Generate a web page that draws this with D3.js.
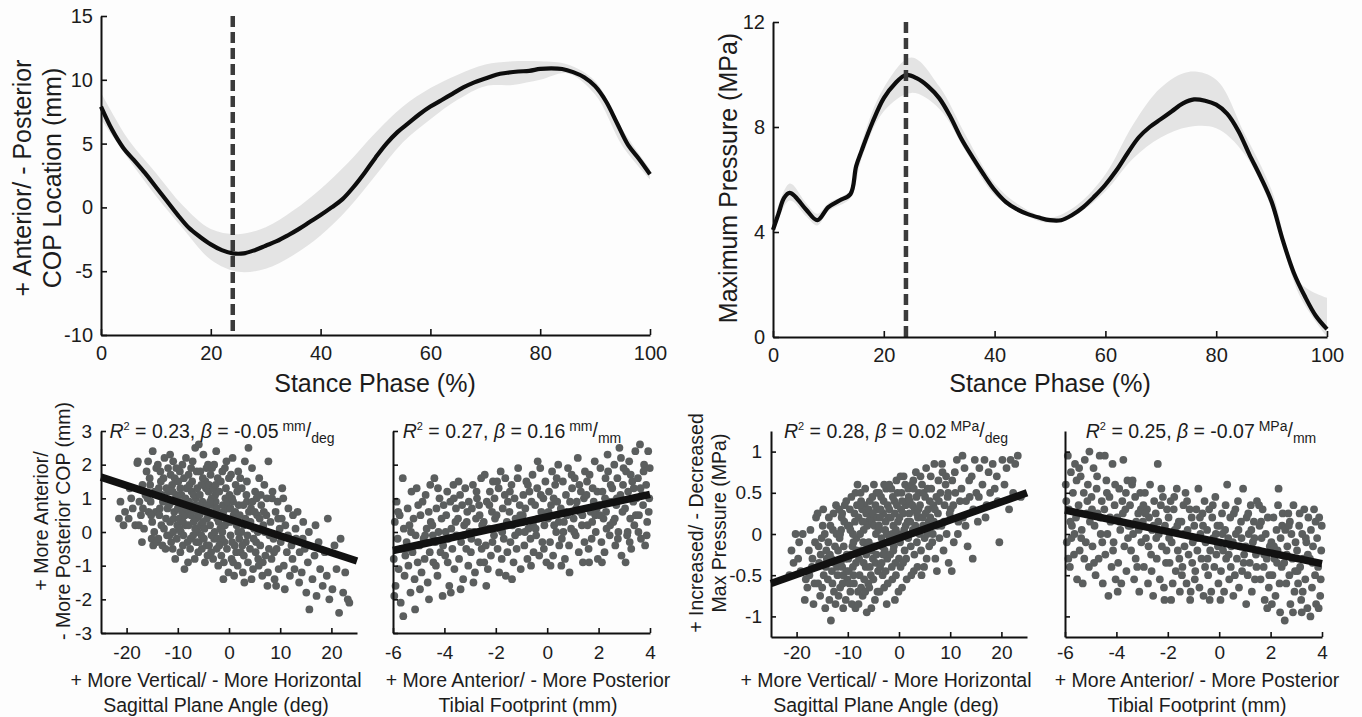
<!DOCTYPE html>
<html><head><meta charset="utf-8">
<script src="https://cdn.jsdelivr.net/npm/d3@7"></script>
<style>body{margin:0;background:#fff}svg{display:block}</style>
</head><body>
<svg id="chart" width="1362" height="717"></svg>
<script>
// ---------------- DATA ----------------
const stanceTicks = [0, 20, 40, 60, 80, 100];
const copTicks = [-10, -5, 0, 5, 10, 15];
const pressTicks = [0, 4, 8, 12];
const angleTicks = [-20, -10, 0, 10, 20];
const footTicks = [-6, -4, -2, 0, 2, 4];
const copDevTicks = [-3, -2, -1, 0, 1, 2, 3];
const pressDevTicks = [-1, -0.5, 0, 0.5, 1];
const markerPct = 24;

const copPct = [0,2,4,6,8,10,12,14,16,18,20,22,24,26,28,30,32,34,36,38,40,42,44,46,48,50,52,54,56,58,60,62,64,66,68,70,72,74,76,78,80,82,84,86,88,90,92,94,96,98,100];
const copMean = [7.9,6.1,4.7,3.7,2.7,1.6,0.5,-0.6,-1.6,-2.3,-2.9,-3.35,-3.6,-3.6,-3.35,-3.0,-2.65,-2.2,-1.7,-1.15,-0.6,0.0,0.65,1.6,2.7,3.9,5.0,5.9,6.6,7.3,7.9,8.4,8.9,9.4,9.8,10.1,10.4,10.55,10.65,10.7,10.85,10.9,10.85,10.6,10.2,9.5,8.3,6.6,4.9,3.8,2.6];
const copBandPct = [0,5,10,15,20,25,30,35,40,45,50,55,60,65,70,75,80,85,90,95,100];
const copUpper = [9.0,5.3,2.7,0.1,-1.7,-2.1,-1.55,-0.25,1.45,3.5,5.85,7.9,9.35,10.4,11.2,11.45,11.45,11.2,9.9,6.1,3.0];
const copLower = [6.9,3.8,0.9,-1.7,-4.1,-5.05,-4.8,-3.75,-2.2,-0.1,2.5,5.1,6.9,8.45,9.5,9.6,10.0,10.5,8.85,4.8,2.2];

const pressPct = [0,1,2,3,4,6,8,10,12,14,15,16,18,20,22,24,26,28,30,32,34,36,38,40,42,44,46,48,50,52,54,56,58,60,62,64,66,68,70,72,74,76,78,80,82,84,86,88,90,92,94,96,98,100];
const pressMean = [4.08,4.7,5.3,5.49,5.35,4.85,4.45,4.95,5.2,5.45,6.5,7.1,8.2,9.1,9.65,9.98,9.85,9.55,9.1,8.4,7.55,6.85,6.2,5.6,5.15,4.87,4.68,4.55,4.45,4.45,4.65,4.95,5.35,5.8,6.35,7.0,7.6,8.0,8.3,8.6,8.9,9.05,9.0,8.85,8.5,7.85,6.95,6.1,5.15,3.7,2.45,1.55,0.8,0.3];
const pressBandPct = [0,3,6,8,10,14,16,20,25,30,35,40,45,50,55,60,65,70,75,80,85,90,95,100];
const pressUpper = [4.3,5.85,5.1,4.7,5.1,5.6,7.4,9.5,10.65,9.55,7.6,5.85,4.95,4.55,5.05,6.2,8.1,9.5,10.1,9.8,7.8,5.6,2.1,1.5];
const pressLower = [3.9,5.2,4.6,4.25,4.8,5.3,6.8,8.6,9.3,8.7,7.0,5.4,4.7,4.35,4.7,5.55,6.8,7.6,8.0,7.95,7.0,4.9,1.6,0.0];

const angleCop = [[-21.2,0.9],[-20.6,0.2],[-20.3,0.6],[-21.5,0.4],
[-19.6,0.4],[-19.1,1.0],[-18.8,0.7],[-18.3,0.2],[-19.4,1.3],[-17.9,2.05],
[-17.8,2.1],[-17.5,0.9],[-17.2,0.5],[-16.9,1.4],[-16.6,0.1],[-17.0,-0.3],[-16.3,1.1],[-16.8,0.7],[-17.6,0.2],[-16.1,1.8],
[-15.8,2.1],[-15.5,1.6],[-15.3,0.9],[-15.0,0.3],[-14.8,-0.4],[-14.5,1.2],[-15.7,0.6],[-14.2,1.9],[-15.1,-0.2],[-14.6,0.0],[-15.9,1.0],[-14.3,0.6],[-15.4,1.4],[-14.9,2.4],[-14.1,-0.3],[-15.2,0.5],
[-13.9,2.0],[-13.7,1.3],[-13.5,0.7],[-13.2,0.2],[-13.0,-0.4],[-12.8,1.6],[-12.5,1.0],[-12.3,0.4],[-12.1,-0.1],[-13.8,-0.2],[-13.4,1.8],[-12.9,0.9],[-12.6,2.2],[-12.2,1.3],[-13.6,0.5],[-13.1,1.1],[-12.4,-0.5],[-12.7,0.1],[-13.3,1.5],[-12.0,0.7],
[-11.9,1.9],[-11.7,0.8],[-11.5,0.3],[-11.3,-0.3],[-11.1,1.4],[-10.9,2.1],[-10.7,0.6],[-10.5,-0.8],[-10.3,1.1],[-10.1,0.2],[-11.8,1.2],[-11.6,-0.1],[-11.4,1.7],[-11.2,0.9],[-11.0,-0.5],[-10.8,0.4],[-10.6,1.6],[-10.4,1.0],[-10.2,-0.2],[-10.0,0.7],[-11.5,2.3],[-10.9,0.0],[-10.3,1.9],[-11.0,1.2],
[-9.9,1.5],[-9.7,0.4],[-9.5,-0.6],[-9.3,1.1],[-9.1,2.0],[-8.9,0.8],[-8.7,-1.1],[-8.5,0.2],[-8.3,1.3],[-8.1,-0.3],[-9.8,0.9],[-9.6,1.8],[-9.4,0.0],[-9.2,0.6],[-9.0,-0.4],[-8.8,1.6],[-8.6,0.5],[-8.4,2.2],[-8.2,0.9],[-8.0,-0.9],[-9.5,1.3],[-9.0,0.3],[-8.5,1.0],[-8.9,-0.1],[-9.7,0.1],[-8.3,0.7],
[-7.9,1.7],[-7.7,0.6],[-7.5,-0.2],[-7.3,1.2],[-7.1,2.1],[-6.9,0.3],[-6.7,-0.8],[-6.5,1.0],[-6.3,1.8],[-6.1,0.0],[-7.8,0.9],[-7.6,-0.5],[-7.4,0.5],[-7.2,1.5],[-7.0,-0.1],[-6.8,0.8],[-6.6,2.5],[-6.4,0.4],[-6.2,1.3],[-6.0,-0.6],[-7.9,0.2],[-7.4,1.9],[-6.9,1.1],[-6.4,-0.3],[-7.1,0.7],[-6.6,0.1],[-7.7,1.4],[-6.2,0.6],
[-5.9,2.6],[-5.7,1.1],[-5.5,0.2],[-5.3,-0.5],[-5.1,1.6],[-4.9,0.7],[-4.7,-0.9],[-4.5,1.3],[-4.3,0.4],[-4.1,2.0],[-5.8,0.5],[-5.6,1.8],[-5.4,-0.1],[-5.2,0.9],[-5.0,2.3],[-4.8,0.1],[-4.6,1.5],[-4.4,-0.4],[-4.2,0.8],[-4.0,1.2],[-5.9,-0.3],[-5.4,1.4],[-4.9,-0.2],[-4.4,1.9],[-5.1,0.3],[-4.6,0.6],[-5.7,0.8],[-4.2,-0.7],
[-3.9,1.4],[-3.7,0.2],[-3.5,-0.6],[-3.3,1.9],[-3.1,0.8],[-2.9,-0.2],[-2.7,1.1],[-2.5,2.4],[-2.3,0.4],[-2.1,-1.0],[-3.8,0.6],[-3.6,1.7],[-3.4,-0.1],[-3.2,0.5],[-3.0,1.3],[-2.8,0.0],[-2.6,0.9],[-2.4,-0.5],[-2.2,1.6],[-2.0,0.3],[-3.9,-0.4],[-3.4,1.0],[-2.9,2.0],[-2.4,0.7],[-3.1,-0.8],[-2.6,1.4],[-3.7,0.9],[-2.2,-0.2],
[-1.9,1.2],[-1.7,0.1],[-1.5,-0.7],[-1.3,1.8],[-1.1,0.6],[-0.9,-0.3],[-0.7,1.0],[-0.5,2.1],[-0.3,0.3],[-0.1,-1.2],[-1.8,0.5],[-1.6,1.5],[-1.4,-0.2],[-1.2,0.8],[-1.0,-0.9],[-0.8,0.2],[-0.6,1.3],[-0.4,-0.5],[-0.2,0.7],[0.0,1.6],[-1.9,-0.4],[-1.3,0.0],[-0.8,1.9],[-0.3,0.9],[-1.1,-1.4],[-0.6,0.4],
[0.1,1.1],[0.3,-0.1],[0.5,-0.8],[0.7,2.2],[0.9,0.5],[1.1,-0.4],[1.3,1.4],[1.5,0.2],[1.7,-1.0],[1.9,0.8],[0.2,0.3],[0.4,1.7],[0.6,-0.3],[0.8,0.9],[1.0,-1.3],[1.2,0.6],[1.4,-0.6],[1.6,1.2],[1.8,0.0],[2.0,-0.2],[0.3,0.7],[0.8,-0.9],[1.3,0.4],[1.8,1.8],[0.6,1.0],
[2.1,0.5],[2.3,-0.6],[2.5,1.3],[2.7,-1.2],[2.9,0.2],[3.1,2.1],[3.3,-0.3],[3.5,0.9],[3.7,-0.9],[3.9,0.6],[2.2,1.6],[2.4,0.0],[2.6,-0.4],[2.8,0.8],[3.0,-1.5],[3.2,0.4],[3.4,1.1],[3.6,-0.1],[3.8,2.5],[4.0,0.3],[2.9,-0.7],[3.5,1.5],
[4.1,-0.5],[4.3,0.7],[4.5,1.9],[4.7,-1.1],[4.9,0.1],[5.1,1.2],[5.3,-0.3],[5.5,0.5],[5.7,-0.8],[5.9,1.6],[4.2,0.3],[4.4,-1.4],[4.6,0.9],[4.8,-0.2],[5.0,0.6],[5.2,-0.6],[5.4,1.0],[5.6,0.0],[5.8,-1.0],[6.0,0.4],
[6.1,-0.4],[6.3,0.8],[6.5,-1.3],[6.7,0.2],[6.9,1.4],[7.1,-0.7],[7.3,0.5],[7.5,-1.6],[7.7,2.1],[7.9,-0.1],[6.2,1.1],[6.6,-0.9],[7.0,0.0],[7.4,1.0],[7.8,-0.5],[6.8,0.6],[7.6,-1.2],
[8.1,0.3],[8.3,-0.8],[8.5,1.2],[8.7,-0.2],[8.9,-1.4],[9.1,0.6],[9.3,-0.5],[9.5,0.9],[9.7,-1.1],[9.9,0.1],[8.4,1.0],[8.8,-0.6],[9.2,-1.6],[9.6,0.4],
[10.1,-0.3],[10.4,1.3],[10.7,-1.0],[11.0,0.2],[11.3,-0.6],[11.6,0.7],[11.9,-1.3],[10.3,0.4],[10.9,-1.7],[11.5,-0.1],[10.6,1.0],
[12.2,-0.4],[12.5,0.5],[12.8,-1.1],[13.1,-0.2],[13.4,0.6],[13.7,-1.5],[12.4,-0.8],[13.0,0.1],[13.8,-0.6],
[14.2,-1.2],[14.5,0.3],[14.8,-0.5],[15.1,-1.8],[15.4,-0.9],[15.7,-2.3],[14.4,-0.2],[15.6,0.0],
[16.3,-1.4],[16.7,-0.7],[17.1,-1.9],[17.5,-0.3],[17.8,-1.1],[16.9,0.2],
[18.3,-1.6],[18.7,-0.6],[19.1,-1.3],[19.6,-2.0],[19.3,0.4],
[20.2,-1.7],[20.6,-0.4],[21.0,-1.1],[21.5,-2.4],[21.8,-0.2],
[22.3,-1.8],[22.7,-1.2],[23.2,-2.0],[23.5,-2.1]];

const footCop = [[-5.97,-0.8],[-5.93,0.3],[-5.9,-1.6],[-5.86,0.9],[-5.82,-0.2],[-5.78,-1.1],[-5.74,0.5],[-5.7,-2.1],[-5.66,-0.5],[-5.62,1.6],[-5.58,0.1],[-5.55,-1.3],[-5.52,-0.7],[-5.95,-1.9],[-5.8,0.6],[-5.6,-2.5],
[-5.47,-0.3],[-5.43,0.7],[-5.4,-1.0],[-5.36,0.2],[-5.32,-1.8],[-5.28,1.2],[-5.24,-0.6],[-5.2,0.4],[-5.16,-1.4],[-5.12,-0.1],[-5.08,1.3],[-5.04,-0.9],[-5.45,-0.5],[-5.3,0.0],[-5.14,-2.3],[-5.02,0.8],
[-4.97,-0.4],[-4.93,0.5],[-4.89,-1.2],[-4.85,0.9],[-4.81,-0.2],[-4.77,-0.8],[-4.73,1.1],[-4.69,0.1],[-4.65,-1.5],[-4.61,0.6],[-4.57,-0.6],[-4.53,0.3],[-4.95,-1.7],[-4.75,-0.1],[-4.55,1.4],[-4.6,-2.0],
[-4.47,0.2],[-4.43,-0.9],[-4.39,1.6],[-4.35,-0.3],[-4.31,0.7],[-4.27,-1.3],[-4.23,0.0],[-4.19,1.0],[-4.15,-0.6],[-4.11,0.4],[-4.07,-1.9],[-4.03,0.8],[-4.45,-0.1],[-4.25,1.3],[-4.05,-0.4],[-4.33,-1.0],
[-3.97,-0.7],[-3.93,0.5],[-3.89,1.2],[-3.85,-0.2],[-3.81,-1.6],[-3.77,0.9],[-3.73,0.1],[-3.69,-0.5],[-3.65,1.4],[-3.61,-1.1],[-3.57,0.3],[-3.53,-0.1],[-3.95,0.0],[-3.75,-1.8],[-3.55,0.7],[-3.63,1.0],[-3.87,-0.9],
[-3.47,0.4],[-3.43,-0.8],[-3.39,1.1],[-3.35,-0.3],[-3.31,0.8],[-3.27,-1.4],[-3.23,0.2],[-3.19,1.3],[-3.15,-0.5],[-3.11,0.6],[-3.07,-1.0],[-3.03,0.0],[-3.45,1.5],[-3.25,-0.1],[-3.05,0.9],[-3.37,-1.7],[-3.13,0.3],
[-2.97,-0.6],[-2.93,0.7],[-2.89,1.4],[-2.85,0.0],[-2.81,-1.2],[-2.77,0.4],[-2.73,1.0],[-2.69,-0.3],[-2.65,0.8],[-2.61,-0.9],[-2.57,1.6],[-2.53,0.2],[-2.95,-0.2],[-2.75,1.2],[-2.55,-0.5],[-2.63,0.5],[-2.87,-1.5],
[-2.47,0.3],[-2.43,1.7],[-2.39,-0.4],[-2.35,0.9],[-2.31,-1.1],[-2.27,0.1],[-2.23,1.2],[-2.19,-0.7],[-2.15,0.6],[-2.11,1.5],[-2.07,-0.1],[-2.03,0.4],[-2.45,-0.9],[-2.25,0.8],[-2.05,1.0],[-2.37,-1.6],[-2.13,-0.3],
[-1.97,0.5],[-1.93,-0.5],[-1.89,1.3],[-1.85,0.1],[-1.81,1.8],[-1.77,-0.8],[-1.73,0.7],[-1.69,-0.2],[-1.65,1.1],[-1.61,-1.3],[-1.57,0.3],[-1.53,0.9],[-1.95,1.5],[-1.75,0.0],[-1.55,-0.6],[-1.63,1.6],[-1.87,-1.2],
[-1.47,0.6],[-1.43,-0.3],[-1.39,1.4],[-1.35,0.2],[-1.31,-0.9],[-1.27,1.0],[-1.23,0.4],[-1.19,-0.5],[-1.15,1.6],[-1.11,0.0],[-1.07,0.8],[-1.03,-1.1],[-1.45,1.2],[-1.25,-0.1],[-1.05,0.5],[-1.37,-1.4],[-1.13,1.9],
[-0.97,0.3],[-0.93,1.1],[-0.89,-0.4],[-0.85,0.7],[-0.81,1.5],[-0.77,-0.8],[-0.73,0.1],[-0.69,1.2],[-0.65,-0.2],[-0.61,0.9],[-0.57,1.7],[-0.53,-0.6],[-0.95,0.5],[-0.75,1.4],[-0.55,0.2],[-0.63,-1.0],[-0.87,0.0],
[-0.47,0.8],[-0.43,-0.1],[-0.39,1.3],[-0.35,0.4],[-0.31,-0.7],[-0.27,1.9],[-0.23,0.6],[-0.19,-0.3],[-0.15,1.0],[-0.11,0.2],[-0.07,1.5],[-0.03,-0.9],[-0.45,0.1],[-0.25,1.1],[-0.05,0.5],[-0.37,2.1],[-0.13,-0.5],
[0.03,0.4],[0.07,1.2],[0.11,-0.3],[0.15,0.8],[0.19,1.8],[0.23,-0.7],[0.27,0.2],[0.31,1.4],[0.35,0.0],[0.39,0.9],[0.43,2.0],[0.47,-0.4],[0.05,0.6],[0.25,1.0],[0.45,0.3],[0.13,-1.0],[0.37,1.6],
[0.53,0.7],[0.57,-0.2],[0.61,1.5],[0.65,0.3],[0.69,-0.8],[0.73,1.1],[0.77,0.5],[0.81,1.9],[0.85,-0.4],[0.89,0.9],[0.93,0.1],[0.97,1.3],[0.55,-1.0],[0.75,0.6],[0.95,1.7],[0.63,0.0],[0.87,-1.2],
[1.03,0.4],[1.07,1.6],[1.11,-0.1],[1.15,0.9],[1.19,2.2],[1.23,-0.6],[1.27,0.6],[1.31,1.2],[1.35,0.2],[1.39,-0.9],[1.43,1.0],[1.47,1.8],[1.05,0.0],[1.25,1.4],[1.45,-0.3],[1.13,0.7],[1.37,0.5],
[1.53,1.1],[1.57,0.2],[1.61,-0.5],[1.65,1.7],[1.69,0.6],[1.73,-0.2],[1.77,1.3],[1.81,0.9],[1.85,2.1],[1.89,0.0],[1.93,0.7],[1.97,-0.8],[1.55,1.5],[1.75,0.3],[1.95,1.2],[1.63,-0.9],[1.87,0.5],
[2.03,0.8],[2.07,1.9],[2.11,-0.3],[2.15,1.2],[2.19,0.4],[2.23,-0.6],[2.27,1.6],[2.31,0.1],[2.35,2.3],[2.39,0.9],[2.43,-0.1],[2.47,1.4],[2.05,0.5],[2.25,1.0],[2.45,0.2],[2.13,-0.9],[2.37,1.8],[2.29,0.6],
[2.53,1.3],[2.57,0.3],[2.61,2.0],[2.65,-0.4],[2.69,0.8],[2.73,1.6],[2.77,0.0],[2.81,2.5],[2.85,1.1],[2.89,-0.7],[2.93,0.6],[2.97,1.9],[2.55,0.9],[2.75,-0.2],[2.95,1.4],[2.63,0.4],[2.87,2.2],[2.71,1.0],
[3.03,0.7],[3.07,1.8],[3.11,-0.1],[3.15,1.2],[3.19,2.1],[3.23,0.4],[3.27,-0.5],[3.31,1.5],[3.35,0.9],[3.39,0.2],[3.43,2.4],[3.47,1.0],[3.05,-0.9],[3.25,1.7],[3.45,0.5],[3.13,0.0],[3.37,1.3],[3.21,-0.3],
[3.53,1.6],[3.57,0.5],[3.61,2.6],[3.65,-0.2],[3.69,1.1],[3.73,0.8],[3.77,2.0],[3.81,-0.4],[3.85,1.4],[3.89,0.3],[3.93,2.4],[3.97,1.0],[3.55,0.0],[3.75,1.8],[3.95,0.6],[3.63,1.3],[3.87,-0.1],[3.99,1.9]];

const anglePress = [[-21.0,-0.2],[-20.6,-0.35],[-20.2,0.0],[-21.4,-0.5],
[-19.7,-0.3],[-19.2,-0.45],[-18.8,0.0],[-18.4,-0.8],[-19.5,-0.1],[-18.2,-0.55],
[-17.9,-0.65],[-17.6,-0.2],[-17.3,0.05],[-17.0,-0.4],[-16.7,-0.85],[-16.4,-0.1],[-16.2,0.2],[-17.5,-0.5],[-16.9,-0.3],[-16.5,-0.6],
[-15.9,0.25],[-15.6,-0.35],[-15.4,-0.75],[-15.1,-0.05],[-14.9,0.1],[-14.7,-0.5],[-14.4,-0.9],[-14.2,-0.2],[-15.8,-0.6],[-15.3,-0.25],[-14.8,0.3],[-14.3,-0.4],[-15.7,-0.15],[-15.0,-0.65],[-14.5,0.0],[-14.1,-0.3],
[-13.9,-0.55],[-13.7,0.2],[-13.5,-0.25],[-13.3,-1.05],[-13.1,-0.45],[-12.9,0.05],[-12.7,-0.7],[-12.5,-0.15],[-12.3,0.35],[-12.1,-0.4],[-13.8,-0.1],[-13.6,-0.8],[-13.4,0.1],[-13.2,-0.3],[-13.0,-0.6],[-12.8,0.25],[-12.6,-0.35],[-12.4,-0.85],[-12.2,0.0],[-12.0,-0.5],
[-11.9,-0.2],[-11.7,0.3],[-11.5,-0.65],[-11.3,0.05],[-11.1,-0.4],[-10.9,-0.9],[-10.7,0.15],[-10.5,-0.3],[-10.3,0.4],[-10.1,-0.55],[-11.8,-0.75],[-11.6,-0.05],[-11.4,-0.35],[-11.2,0.2],[-11.0,-0.6],[-10.8,-0.15],[-10.6,0.35],[-10.4,-0.8],[-10.2,-0.25],[-10.0,0.1],[-11.5,0.0],[-10.9,-0.5],[-10.3,-0.45],[-11.1,0.25],
[-9.9,-0.3],[-9.7,0.1],[-9.5,-0.7],[-9.3,0.45],[-9.1,-0.15],[-8.9,-0.5],[-8.7,0.25],[-8.5,-0.9],[-8.3,-0.05],[-8.1,0.6],[-9.8,-0.45],[-9.6,0.3],[-9.4,-0.25],[-9.2,-0.85],[-9.0,0.0],[-8.8,-0.6],[-8.6,0.15],[-8.4,-0.35],[-8.2,0.35],[-8.0,-0.7],[-9.5,0.05],[-9.0,-0.4],[-8.5,0.5],[-8.9,-0.1],[-9.7,-0.6],[-8.3,-0.2],
[-7.9,0.2],[-7.7,-0.5],[-7.5,0.5],[-7.3,-0.2],[-7.1,-0.75],[-6.9,0.05],[-6.7,0.35],[-6.5,-0.4],[-6.3,-0.95],[-6.1,0.15],[-7.8,-0.3],[-7.6,0.0],[-7.4,-0.65],[-7.2,0.3],[-7.0,-0.1],[-6.8,-0.55],[-6.6,0.55],[-6.4,-0.25],[-6.2,0.1],[-6.0,-0.6],[-7.9,-0.85],[-7.4,0.4],[-6.9,-0.35],[-6.4,0.25],[-7.1,0.15],[-6.6,-0.7],[-7.7,0.35],[-6.2,-0.15],
[-5.9,-0.1],[-5.7,0.4],[-5.5,-0.5],[-5.3,0.15],[-5.1,-0.3],[-4.9,0.6],[-4.7,-0.8],[-4.5,0.0],[-4.3,0.3],[-4.1,-0.45],[-5.8,-0.65],[-5.6,0.2],[-5.4,-0.2],[-5.2,0.45],[-5.0,-0.55],[-4.8,0.1],[-4.6,-0.35],[-4.4,0.5],[-4.2,-0.7],[-4.0,0.05],[-5.9,0.3],[-5.4,-0.9],[-4.9,-0.15],[-4.4,-0.25],[-5.1,0.25],[-4.6,0.35],[-5.7,-0.4],[-4.2,0.2],
[-3.9,0.1],[-3.7,-0.4],[-3.5,0.45],[-3.3,-0.15],[-3.1,0.25],[-2.9,-0.65],[-2.7,0.05],[-2.5,0.55],[-2.3,-0.3],[-2.1,0.2],[-3.8,-0.7],[-3.6,0.3],[-3.4,-0.05],[-3.2,-0.5],[-3.0,0.4],[-2.8,-0.2],[-2.6,0.15],[-2.4,-0.85],[-2.2,0.35],[-2.0,-0.1],[-3.9,0.5],[-3.4,-0.35],[-2.9,0.6],[-2.4,0.0],[-3.1,-0.25],[-2.6,-0.45],[-3.7,0.2],[-2.2,-0.6],
[-1.9,0.3],[-1.7,-0.25],[-1.5,0.55],[-1.3,-0.55],[-1.1,0.1],[-0.9,0.4],[-0.7,-0.35],[-0.5,0.65],[-0.3,0.0],[-0.1,-0.7],[-1.8,-0.05],[-1.6,0.2],[-1.4,-0.4],[-1.2,0.45],[-1.0,-0.15],[-0.8,0.25],[-0.6,-0.5],[-0.4,0.35],[-0.2,0.15],[0.0,-0.3],[-1.9,0.6],[-1.3,0.0],[-0.8,-0.8],[-0.3,0.5],[-1.1,-0.2],[-0.6,0.05],
[0.1,0.2],[0.3,-0.4],[0.5,0.5],[0.7,0.0],[0.9,0.7],[1.1,-0.2],[1.3,0.35],[1.5,-0.55],[1.7,0.15],[1.9,0.45],[0.2,-0.1],[0.4,0.3],[0.6,-0.65],[0.8,0.25],[1.0,0.05],[1.2,0.6],[1.4,-0.3],[1.6,0.4],[1.8,-0.05],[2.0,0.25],[0.3,0.7],[0.8,-0.35],[1.3,0.1],[1.8,0.55],[0.6,0.4],
[2.1,0.4],[2.3,-0.15],[2.5,0.6],[2.7,0.05],[2.9,-0.45],[3.1,0.3],[3.3,0.75],[3.5,-0.1],[3.7,0.2],[3.9,0.5],[2.2,0.15],[2.4,-0.5],[2.6,0.35],[2.8,0.65],[3.0,-0.25],[3.2,0.1],[3.4,0.45],[3.6,-0.4],[3.8,0.3],[4.0,0.0],[2.9,0.55],[3.5,0.25],
[4.1,0.35],[4.3,-0.2],[4.5,0.6],[4.7,0.1],[4.9,-0.4],[5.1,0.45],[5.3,0.8],[5.5,0.0],[5.7,0.3],[5.9,-0.15],[4.2,0.7],[4.4,-0.5],[4.6,0.2],[4.8,0.5],[5.0,-0.05],[5.2,0.25],[5.4,-0.3],[5.6,0.55],[5.8,0.15],[6.0,0.4],
[6.1,0.2],[6.3,0.55],[6.5,-0.1],[6.7,0.35],[6.9,0.85],[7.1,-0.3],[7.3,0.45],[7.5,0.1],[7.7,0.65],[7.9,-0.05],[6.2,0.7],[6.6,0.0],[7.0,0.3],[7.4,-0.45],[7.8,0.4],[6.8,0.15],[7.6,0.25],
[8.1,0.5],[8.3,0.1],[8.5,0.75],[8.7,-0.2],[8.9,0.35],[9.1,0.6],[9.3,0.0],[9.5,0.45],[9.7,-0.35],[9.9,0.25],[8.4,0.85],[8.8,0.15],[9.2,0.7],[9.6,0.5],
[10.1,0.3],[10.4,0.65],[10.7,-0.1],[11.0,0.5],[11.3,0.9],[11.6,0.15],[11.9,0.4],[10.3,-0.45],[10.9,0.75],[11.5,0.0],[10.6,0.35],
[12.2,0.55],[12.5,0.2],[12.8,0.8],[13.1,0.4],[13.4,-0.15],[13.7,0.65],[12.4,0.95],[13.0,0.1],[13.8,0.45],
[14.2,0.7],[14.5,0.3],[14.8,0.9],[15.1,0.5],[15.4,0.15],[15.7,0.8],[14.4,-0.3],[15.6,0.45],
[16.3,0.6],[16.7,0.9],[17.1,0.35],[17.5,0.75],[17.8,0.5],[16.9,0.2],
[18.3,0.85],[18.7,0.55],[19.1,0.7],[19.6,-0.1],[19.3,0.4],
[20.2,0.9],[20.6,0.6],[21.0,0.8],[21.5,0.3],[21.8,0.9],
[22.3,0.5],[22.7,0.85],[23.2,0.95],[23.8,0.45]];

const footPress = [[-5.97,0.6],[-5.93,-0.1],[-5.89,0.95],[-5.85,0.3],[-5.81,-0.4],[-5.77,0.75],[-5.73,0.1],[-5.69,0.5],[-5.65,-0.25],[-5.61,0.85],[-5.57,0.2],[-5.53,-0.55],[-5.95,0.4],[-5.75,-0.05],[-5.55,0.65],[-5.63,0.0],[-5.87,-0.3],[-5.79,0.15],
[-5.47,0.35],[-5.43,-0.2],[-5.39,0.7],[-5.35,0.05],[-5.31,-0.6],[-5.27,0.5],[-5.23,0.9],[-5.19,-0.1],[-5.15,0.25],[-5.11,0.6],[-5.07,-0.4],[-5.03,0.15],[-5.45,0.8],[-5.25,-0.3],[-5.05,1.0],[-5.13,0.4],[-5.37,-0.05],
[-4.97,0.45],[-4.93,-0.15],[-4.89,0.8],[-4.85,0.1],[-4.81,-0.5],[-4.77,0.55],[-4.73,0.25],[-4.69,-0.3],[-4.65,0.95],[-4.61,0.0],[-4.57,0.4],[-4.53,-0.6],[-4.95,0.3],[-4.75,0.7],[-4.55,-0.1],[-4.63,0.2],[-4.87,-0.35],
[-4.47,0.3],[-4.43,-0.25],[-4.39,0.65],[-4.35,0.0],[-4.31,-0.75],[-4.27,0.45],[-4.23,0.15],[-4.19,-0.4],[-4.15,0.85],[-4.11,-0.1],[-4.07,0.35],[-4.03,-0.55],[-4.45,0.95],[-4.25,0.2],[-4.05,0.6],[-4.13,-0.2],[-4.37,0.5],
[-3.97,0.2],[-3.93,-0.35],[-3.89,0.55],[-3.85,0.05],[-3.81,-0.6],[-3.77,0.4],[-3.73,0.9],[-3.69,-0.15],[-3.65,0.3],[-3.61,-0.45],[-3.57,0.65],[-3.53,0.1],[-3.95,-0.7],[-3.75,0.25],[-3.55,-0.05],[-3.63,0.5],[-3.87,0.15],
[-3.47,0.35],[-3.43,-0.2],[-3.39,0.6],[-3.35,0.0],[-3.31,-0.55],[-3.27,0.45],[-3.23,0.15],[-3.19,-0.4],[-3.15,0.25],[-3.11,-0.7],[-3.07,0.5],[-3.03,-0.1],[-3.45,0.1],[-3.25,-0.3],[-3.05,0.3],[-3.37,0.65],[-3.13,0.05],
[-2.97,0.15],[-2.93,-0.4],[-2.89,0.5],[-2.85,-0.05],[-2.81,0.3],[-2.77,-0.6],[-2.73,0.2],[-2.69,0.6],[-2.65,-0.25],[-2.61,0.05],[-2.57,-0.75],[-2.53,0.4],[-2.95,0.35],[-2.75,-0.15],[-2.55,0.1],[-2.63,-0.45],[-2.87,0.25],
[-2.47,0.25],[-2.43,-0.3],[-2.39,0.85],[-2.35,0.0],[-2.31,-0.55],[-2.27,0.35],[-2.23,-0.15],[-2.19,0.45],[-2.15,-0.65],[-2.11,0.1],[-2.07,-0.35],[-2.03,0.3],[-2.45,-0.05],[-2.25,0.55],[-2.05,-0.2],[-2.37,0.15],[-2.13,-0.8],
[-1.97,0.2],[-1.93,-0.35],[-1.89,0.4],[-1.85,-0.1],[-1.81,-0.6],[-1.77,0.3],[-1.73,0.05],[-1.69,-0.45],[-1.65,0.55],[-1.61,-0.2],[-1.57,0.15],[-1.53,-0.7],[-1.95,-0.05],[-1.75,0.45],[-1.55,-0.3],[-1.63,0.1],[-1.87,-0.8],
[-1.47,0.15],[-1.43,-0.4],[-1.39,0.35],[-1.35,-0.15],[-1.31,0.5],[-1.27,-0.6],[-1.23,0.05],[-1.19,-0.25],[-1.15,0.3],[-1.11,-0.7],[-1.07,0.2],[-1.03,-0.1],[-1.45,-0.5],[-1.25,0.4],[-1.05,-0.35],[-1.37,0.0],[-1.13,-0.8],
[-0.97,0.1],[-0.93,-0.45],[-0.89,0.3],[-0.85,-0.2],[-0.81,0.55],[-0.77,-0.65],[-0.73,0.0],[-0.69,-0.3],[-0.65,0.25],[-0.61,-0.75],[-0.57,0.4],[-0.53,-0.1],[-0.95,-0.55],[-0.75,0.2],[-0.55,-0.4],[-0.63,0.1],[-0.87,-0.05],
[-0.47,0.05],[-0.43,-0.5],[-0.39,0.3],[-0.35,-0.2],[-0.31,-0.7],[-0.27,0.2],[-0.23,-0.05],[-0.19,-0.4],[-0.15,0.45],[-0.11,-0.25],[-0.07,0.1],[-0.03,-0.6],[-0.45,-0.3],[-0.25,0.35],[-0.05,-0.15],[-0.37,-0.8],[-0.13,0.0],
[0.03,0.1],[0.07,-0.45],[0.11,0.25],[0.15,-0.2],[0.19,-0.7],[0.23,0.05],[0.27,-0.3],[0.31,0.6],[0.35,-0.05],[0.39,-0.55],[0.43,0.2],[0.47,-0.15],[0.05,-0.8],[0.25,0.35],[0.45,-0.4],[0.13,0.0],[0.37,-0.25],
[0.53,-0.1],[0.57,0.25],[0.61,-0.5],[0.65,0.0],[0.69,-0.3],[0.73,0.4],[0.77,-0.65],[0.81,-0.15],[0.85,0.15],[0.89,-0.45],[0.93,0.55],[0.97,-0.25],[0.55,-0.75],[0.75,0.05],[0.95,-0.35],[0.63,0.3],[0.87,-0.05],
[1.03,-0.15],[1.07,0.2],[1.11,-0.5],[1.15,0.0],[1.19,-0.35],[1.23,0.35],[1.27,-0.7],[1.31,-0.1],[1.35,0.15],[1.39,-0.55],[1.43,-0.25],[1.47,0.4],[1.05,-0.85],[1.25,0.05],[1.45,-0.4],[1.13,0.25],[1.37,-0.05],
[1.53,-0.2],[1.57,0.1],[1.61,-0.55],[1.65,-0.05],[1.69,0.3],[1.73,-0.4],[1.77,-0.8],[1.81,0.0],[1.85,-0.3],[1.89,0.2],[1.93,-0.65],[1.97,-0.15],[1.55,0.35],[1.75,-0.25],[1.95,-0.5],[1.63,0.15],[1.87,-0.9],
[2.03,-0.1],[2.07,-0.5],[2.11,0.2],[2.15,-0.3],[2.19,-0.75],[2.23,0.05],[2.27,-0.2],[2.31,0.55],[2.35,-0.6],[2.39,-0.05],[2.43,-0.4],[2.47,0.25],[2.05,-0.85],[2.25,-0.35],[2.45,0.1],[2.13,-0.15],[2.37,-0.95],[2.29,0.35],
[2.53,-0.35],[2.57,0.05],[2.61,-0.6],[2.65,-0.15],[2.69,0.25],[2.73,-0.5],[2.77,-0.85],[2.81,0.0],[2.85,-0.3],[2.89,0.35],[2.93,-0.7],[2.97,-0.1],[2.55,-1.05],[2.75,0.15],[2.95,-0.45],[2.63,-0.25],[2.87,-0.95],[2.71,0.1],
[3.03,-0.2],[3.07,-0.6],[3.11,0.1],[3.15,-0.4],[3.19,-0.8],[3.23,0.0],[3.27,-0.3],[3.31,0.3],[3.35,-0.55],[3.39,-0.1],[3.43,-0.9],[3.47,0.2],[3.05,-0.45],[3.25,-0.7],[3.45,-0.25],[3.13,0.25],[3.37,-0.05],[3.21,-0.95],
[3.53,-0.3],[3.57,0.05],[3.61,-0.65],[3.65,-0.15],[3.69,0.3],[3.73,-0.5],[3.77,-0.85],[3.81,-0.05],[3.85,-0.4],[3.89,0.2],[3.93,-0.75],[3.97,-0.2],[3.55,-1.0],[3.75,0.15],[3.95,-0.55],[3.63,-0.35],[3.87,-0.9],[3.99,0.1]];

const fitAngleCop = [[-25, 1.63], [25, -0.86]];
const fitFootCop = [[-6, -0.55], [4, 1.12]];
const fitAnglePress = [[-25, -0.6], [25, 0.5]];
const fitFootPress = [[-6, 0.29], [4, -0.36]];

const r2Values = ["0.23", "0.27", "0.28", "0.25"];
const betaValues = ["-0.05", "0.16", "0.02", "-0.07"];
const unitNum = ["mm", "mm", "MPa", "MPa"];
const unitDen = ["deg", "mm", "deg", "mm"];

// ---------------- DRAWING ----------------
const FONT = '"Liberation Sans", Arial, Helvetica, sans-serif';
const INK = '#1c1c1c';
const svg = d3.select('#chart').attr('font-family', FONT);
svg.append('rect').attr('width', 1362).attr('height', 717).attr('fill', '#fdfdfd');

function styleAxis(g, fs) {
  g.attr('font-family', FONT).attr('font-size', fs);
  g.select('.domain').attr('stroke', '#111').attr('stroke-width', 2);
  g.selectAll('.tick line').attr('stroke', '#111').attr('stroke-width', 1.6);
  g.selectAll('.tick text').attr('fill', INK);
}
const fmt = d => String(d);

function vLabel(x, y, txt, fs) {
  svg.append('text').attr('transform', `translate(${x},${y}) rotate(-90)`)
    .attr('text-anchor', 'middle').attr('font-size', fs).attr('fill', INK).text(txt);
}
function hLabel(x, y, txt, fs) {
  svg.append('text').attr('x', x).attr('y', y).attr('text-anchor', 'middle')
    .attr('font-size', fs).attr('fill', INK).text(txt);
}

function lineChart(o) {
  const x = d3.scaleLinear().domain([0, 100]).range(o.xr);
  const y = d3.scaleLinear().domain(o.yDom).range(o.yr);
  const band = d3.area().curve(d3.curveCatmullRom)
    .x((d, i) => x(o.bandPct[i])).y0((d, i) => y(o.lower[i])).y1((d, i) => y(o.upper[i]));
  svg.append('path').datum(o.upper).attr('d', band).attr('fill', '#e4e4e4');
  const line = d3.line().curve(d3.curveCatmullRom).x((d, i) => x(o.pct[i])).y(d => y(d));
  svg.append('path').datum(o.mean).attr('d', line).attr('fill', 'none')
    .attr('stroke', '#0d0d0d').attr('stroke-width', 4.2).attr('stroke-linejoin', 'round');
  svg.append('line').attr('x1', x(markerPct)).attr('x2', x(markerPct))
    .attr('y1', y(o.yDom[1])).attr('y2', y(o.yDom[0]))
    .attr('stroke', '#3b3b3b').attr('stroke-width', 4.5).attr('stroke-dasharray', '11,5');
  const gx = svg.append('g').attr('transform', `translate(0,${o.yr[0]})`)
    .call(d3.axisBottom(x).tickValues(stanceTicks).tickFormat(fmt).tickSize(-6).tickSizeOuter(0).tickPadding(11));
  styleAxis(gx, 20);
  const gy = svg.append('g').attr('transform', `translate(${o.xr[0]},0)`)
    .call(d3.axisLeft(y).tickValues(o.yTicks).tickFormat(fmt).tickSize(-6).tickSizeOuter(0).tickPadding(8));
  styleAxis(gy, 20);
}

lineChart({pct: copPct, mean: copMean, bandPct: copBandPct, upper: copUpper, lower: copLower,
  xr: [101, 650], yr: [335, 16], yDom: [-10, 15], yTicks: copTicks});
lineChart({pct: pressPct, mean: pressMean, bandPct: pressBandPct, upper: pressUpper, lower: pressLower,
  xr: [773, 1327], yr: [337, 22], yDom: [0, 12], yTicks: pressTicks});

hLabel(375, 392, 'Stance Phase (%)', 25);
hLabel(1050, 392, 'Stance Phase (%)', 25);
vLabel(31, 178, '+ Anterior/ - Posterior', 25);
vLabel(61, 178, 'COP Location (mm)', 25);
vLabel(737, 178, 'Maximum Pressure (MPa)', 25);

function scatter(o, k) {
  const x = d3.scaleLinear().domain(o.xDom).range(o.xr);
  const y = d3.scaleLinear().domain(o.yDom).range(o.yr);
  svg.append('g').selectAll('circle').data(o.data).join('circle')
    .attr('cx', d => x(d[0])).attr('cy', d => y(d[1])).attr('r', 3.9).attr('fill', '#5b5e5e');
  svg.append('line').attr('x1', x(o.fit[0][0])).attr('y1', y(o.fit[0][1]))
    .attr('x2', x(o.fit[1][0])).attr('y2', y(o.fit[1][1]))
    .attr('stroke', '#111').attr('stroke-width', 7.5);
  const gx = svg.append('g').attr('transform', `translate(0,${o.yr[0]})`)
    .call(d3.axisBottom(x).tickValues(o.xTicks).tickFormat(fmt).tickSize(-5).tickSizeOuter(0).tickPadding(o.xPad));
  styleAxis(gx, 19);
  const gy = svg.append('g').attr('transform', `translate(${o.xr[0]},0)`)
    .call(d3.axisLeft(y).tickValues(o.yTicks).tickFormat(o.yLabels ? fmt : () => '').tickSize(-5).tickSizeOuter(0).tickPadding(9));
  styleAxis(gy, 19);
  // statistics annotation
  const t = svg.append('text').attr('x', o.annX).attr('y', 438).attr('text-anchor', 'middle')
    .attr('font-size', 19.5).attr('fill', INK);
  t.append('tspan').attr('font-style', 'italic').text('R');
  t.append('tspan').attr('font-size', 11).attr('dy', -8).text('2');
  t.append('tspan').attr('dy', 8).text(' = ' + r2Values[k] + ', ');
  t.append('tspan').attr('font-style', 'italic').text('β');
  t.append('tspan').text(' = ' + betaValues[k] + '\u2009');
  t.append('tspan').attr('font-size', 14).attr('dy', -7).text(unitNum[k]);
  t.append('tspan').attr('dy', 6).text('/');
  t.append('tspan').attr('font-size', 14).attr('dy', 6).text(unitDen[k]);
  hLabel(o.labX, 687, o.xLab1, 19.5);
  hLabel(o.labX, 712, o.xLab2, 19.5);
}

scatter({data: angleCop, xDom: [-25, 25], yDom: [-3, 3], xr: [101, 357], yr: [633, 431],
  xTicks: angleTicks, yTicks: copDevTicks, yLabels: true, fit: fitAngleCop, xPad: 13, annX: 222,
  labX: 216, xLab1: '+ More Vertical/ - More Horizontal', xLab2: 'Sagittal Plane Angle (deg)'}, 0);
scatter({data: footCop, xDom: [-6, 4], yDom: [-3, 3], xr: [393, 650], yr: [633, 431],
  xTicks: footTicks, yTicks: copDevTicks, yLabels: false, fit: fitFootCop, xPad: 13, annX: 512,
  labX: 528, xLab1: '+ More Anterior/ - More Posterior', xLab2: 'Tibial Footprint (mm)'}, 1);
scatter({data: anglePress, xDom: [-25, 25], yDom: [-1.25, 1.25], xr: [771, 1027], yr: [637, 431],
  xTicks: angleTicks, yTicks: pressDevTicks, yLabels: true, fit: fitAnglePress, xPad: 9, annX: 896,
  labX: 886, xLab1: '+ More Vertical/ - More Horizontal', xLab2: 'Sagittal Plane Angle (deg)'}, 2);
scatter({data: footPress, xDom: [-6, 4], yDom: [-1.25, 1.25], xr: [1065, 1322], yr: [637, 431],
  xTicks: footTicks, yTicks: pressDevTicks, yLabels: false, fit: fitFootPress, xPad: 9, annX: 1201,
  labX: 1197, xLab1: '+ More Anterior/ - More Posterior', xLab2: 'Tibial Footprint (mm)'}, 3);

vLabel(48, 521, '+ More Anterior/', 19.5);
vLabel(70, 521, '- More Posterior COP (mm)', 19.5);
vLabel(703, 523, '+ Increased/ - Decreased', 19.5);
vLabel(726, 523, 'Max Pressure (MPa)', 19.5);
</script>
</body></html>
